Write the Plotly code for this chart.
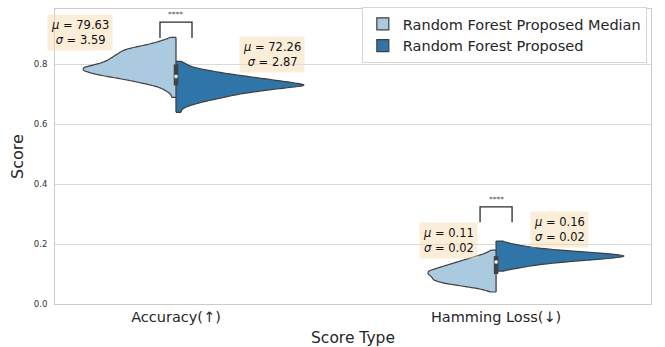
import numpy as np
import plotly.graph_objects as go

# ---- data -------------------------------------------------------------
categories = ["Accuracy(↑)", "Hamming Loss(↓)"]
series_names = ["Random Forest Proposed Median", "Random Forest Proposed"]

# observed score levels and number of runs at each level
acc_scores = [0.64, 0.65, 0.66, 0.67, 0.68, 0.69, 0.70, 0.71, 0.72, 0.73, 0.74, 0.75, 0.76,
              0.77, 0.78, 0.79, 0.80, 0.81, 0.82, 0.83, 0.84, 0.85, 0.86, 0.87, 0.88, 0.89]
acc_median_counts = [0, 0, 0, 0, 0, 1, 1, 2, 3, 5, 8, 11, 15,
                     18, 20, 20, 17, 15, 14, 13, 12, 11, 8, 5, 3, 1]
acc_proposed_counts = [1, 1, 2, 4, 6, 9, 11, 15, 19, 25, 21, 17, 13,
                       9, 6, 3, 2, 1, 0, 0, 0, 0, 0, 0, 0, 0]

ham_scores = [0.04, 0.05, 0.06, 0.07, 0.08, 0.09, 0.10, 0.11, 0.12, 0.13,
              0.14, 0.15, 0.16, 0.17, 0.18, 0.19, 0.20, 0.21]
ham_median_counts = [1, 3, 7, 11, 13, 13, 14, 14, 12, 10, 8, 6, 4, 2, 1, 0, 0, 0]
ham_proposed_counts = [0, 0, 0, 0, 0, 0, 0, 1, 4, 7, 12, 19, 25, 19, 11, 6, 3, 1]

# summary statistics printed next to each half-violin
median_mu = [79.63, 0.11]
median_sigma = [3.59, 0.02]
proposed_mu = [72.26, 0.16]
proposed_sigma = [2.87, 0.02]

significance = ["****", "****"]

# ---- styling ------------------------------------------------------------
FONT = "DejaVu Sans"
fills = ["#abcadf", "#2f75a8"]
outline = "#3f3f3f"
box_gray = "#424242"
violin_width = [[0.58, 0.80], [0.425, 0.80]]   # per [category][series]
bandwidth = [0.006, 0.006]
bracket_dx = 0.05
bracket_y = [(0.888, 0.941), (0.273, 0.324)]
stat_pos = [[(-0.30, 0.905), (0.30, 0.832)], [(-0.148, 0.212), (0.198, 0.250)]]

samples = [
    [np.repeat(acc_scores, acc_median_counts), np.repeat(acc_scores, acc_proposed_counts)],
    [np.repeat(ham_scores, ham_median_counts), np.repeat(ham_scores, ham_proposed_counts)],
]

fig = go.Figure()

# split violins: left half = median variant, right half = proposed
for s, name in enumerate(series_names):
    for c, cat in enumerate(categories):
        y = samples[c][s]
        fig.add_trace(go.Violin(
            x=[cat] * len(y), y=y,
            name=name, showlegend=(c == 0),
            side="negative" if s == 0 else "positive",
            width=violin_width[c][s], scalegroup=f"g{c}{s}", scalemode="width",
            spanmode="hard", bandwidth=bandwidth[c],
            fillcolor=fills[s], line=dict(color=outline, width=1.2), opacity=1,
            points=False, box_visible=False, meanline_visible=False,
            hoverinfo="skip",
        ))

# inner box of the pooled scores per category
for c, cat in enumerate(categories):
    pooled = np.concatenate(samples[c])
    q25, q50, q75 = np.percentile(pooled, [25, 50, 75])
    lim = 1.5 * (q75 - q25)
    lo = pooled[pooled >= q25 - lim].min()
    hi = pooled[pooled <= q75 + lim].max()
    fig.add_trace(go.Scatter(x=[cat, cat], y=[lo, hi], mode="lines",
                             line=dict(color=box_gray, width=1.3),
                             showlegend=False, hoverinfo="skip"))
    fig.add_trace(go.Scatter(x=[cat, cat], y=[q25, q75], mode="lines",
                             line=dict(color=box_gray, width=4.5),
                             showlegend=False, hoverinfo="skip"))
    fig.add_trace(go.Scatter(x=[cat], y=[q50], mode="markers",
                             marker=dict(color="white", size=4,
                                         line=dict(color=box_gray, width=0.5)),
                             showlegend=False, hoverinfo="skip"))

# significance brackets
for c, stars in enumerate(significance):
    y0, y1 = bracket_y[c]
    fig.add_shape(type="path",
                  path=f"M {c - bracket_dx},{y0} L {c - bracket_dx},{y1} "
                       f"L {c + bracket_dx},{y1} L {c + bracket_dx},{y0}",
                  xref="x", yref="y", line=dict(color="#2b2b2b", width=1.3))
    fig.add_annotation(x=c, y=y1, xref="x", yref="y", text=stars, showarrow=False,
                       yanchor="bottom", yshift=1,
                       font=dict(family=FONT, size=7.5, color="#555555"))

# mean / std text boxes
for c in range(len(categories)):
    stats = [(median_mu[c], median_sigma[c]), (proposed_mu[c], proposed_sigma[c])]
    for s, (mu, sd) in enumerate(stats):
        dx, yy = stat_pos[c][s]
        fig.add_annotation(
            x=c + dx, y=yy, xref="x", yref="y", showarrow=False,
            text=f"<i>μ</i> = {mu:.2f}<br><i>σ</i> = {sd:.2f}",
            align="center", bgcolor="rgba(245,222,179,0.5)", borderpad=3,
            font=dict(family=FONT, size=11.5, color="#111111"),
        )

fig.update_layout(
    width=665, height=347,
    margin=dict(l=55, r=14, t=7, b=43),
    paper_bgcolor="white", plot_bgcolor="white",
    violinmode="overlay", violingap=0, violingroupgap=0,
    font=dict(family=FONT, color="#262626"),
    legend=dict(x=0.993, y=1.007, xanchor="right", yanchor="top",
                bgcolor="white", bordercolor="#d6d6d6", borderwidth=1,
                font=dict(family=FONT, size=14.5, color="#262626"),
                tracegroupgap=0, itemwidth=30),
    showlegend=True,
)
fig.update_xaxes(
    type="category", categoryorder="array", categoryarray=categories,
    range=[-0.378, 1.484], showgrid=False, zeroline=False, automargin=False,
    showline=True, linecolor="#cccccc", linewidth=1, mirror=True,
    ticks="", tickfont=dict(family=FONT, size=14.5, color="#262626"),
    title=dict(text="Score Type", font=dict(family=FONT, size=15.5, color="#262626"),
               standoff=8),
)
fig.update_yaxes(
    range=[0, 0.985], tickvals=[0, 0.2, 0.4, 0.6, 0.8], tickformat=".1f",
    showgrid=True, gridcolor="#d9d9d9", gridwidth=1, zeroline=False, automargin=False,
    showline=True, linecolor="#cccccc", linewidth=1, mirror=True,
    ticks="outside", ticklen=5, tickcolor="rgba(0,0,0,0)",
    tickfont=dict(family=FONT, size=8.5, color="#333333"),
    title=dict(text="Score", font=dict(family=FONT, size=16, color="#262626"),
               standoff=6),
)

fig.write_html("out.html")
